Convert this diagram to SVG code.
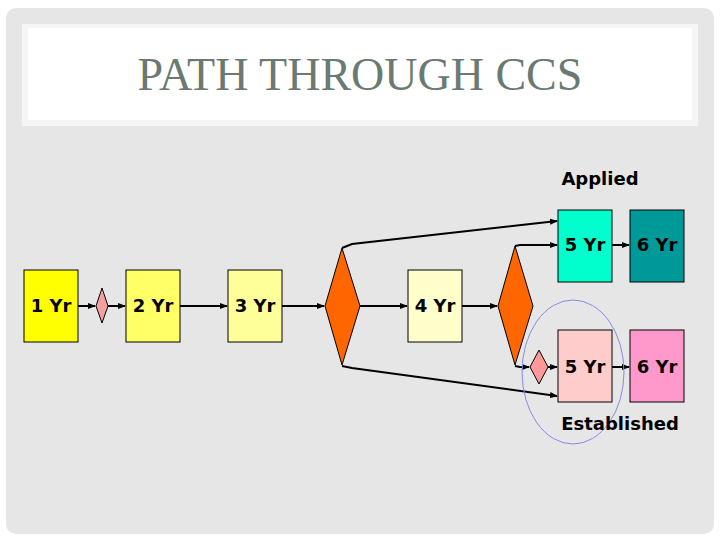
<svg xmlns="http://www.w3.org/2000/svg" width="720" height="540" viewBox="0 0 720 540">
<defs>
<marker id="a" markerWidth="8" markerHeight="8" refX="7" refY="4" orient="auto" markerUnits="userSpaceOnUse"><path d="M0,1 L8,4 L0,7 Z" fill="#000"/></marker>
<style>
.b{stroke:#000;stroke-width:1}
.t{font-family:"DejaVu Sans",sans-serif;font-size:18px;font-weight:bold;fill:#000}
.c{stroke:#000;stroke-width:2;fill:none;marker-end:url(#a)}
</style>
</defs>
<rect width="720" height="540" fill="#fff"/>
<rect x="6" y="8" width="708" height="526" rx="10" fill="#e6e6e6"/>
<rect x="22" y="24" width="676" height="102" fill="#f5f5f5"/>
<rect x="28" y="28" width="664" height="92" fill="#fff"/>
<text x="360" y="90" text-anchor="middle" font-family="Liberation Serif,serif" font-size="46" fill="#6a7a72">PATH THROUGH CCS</text>
<g id="connectors">
<line class="c" x1="78" y1="306" x2="95" y2="306"/>
<line class="c" x1="108" y1="306" x2="125" y2="306"/>
<line class="c" x1="180" y1="306" x2="227" y2="306"/>
<line class="c" x1="282" y1="306" x2="324" y2="306"/>
<line class="c" x1="360" y1="306" x2="407" y2="306"/>
<line class="c" x1="462" y1="306" x2="497" y2="306"/>
<polyline class="c" points="342,248 352,244 557,221"/>
<polyline class="c" points="342,366 352,368 557,396"/>
<polyline class="c" points="515,246 520,245 557,245"/>
<polyline class="c" points="515,366 520,367 529,367"/>
<line class="c" x1="548" y1="367" x2="557" y2="367"/>
<line class="c" x1="612" y1="245" x2="629" y2="245"/>
<line class="c" x1="612" y1="367" x2="629" y2="367"/>
</g>
<g id="n1"><rect class="b" x="24" y="270" width="54" height="72" fill="#ffff00"/><text class="t" x="51" y="312" text-anchor="middle">1 Yr</text></g>
<g id="d1"><polygon class="b" points="102,288 108,306 102,323 96,306" fill="#f4a0a0"/></g>
<g id="n2"><rect class="b" x="126" y="270" width="54" height="72" fill="#ffff66"/><text class="t" x="153" y="312" text-anchor="middle">2 Yr</text></g>
<g id="n3"><rect class="b" x="228" y="270" width="54" height="72" fill="#ffff99"/><text class="t" x="255" y="312" text-anchor="middle">3 Yr</text></g>
<g id="d2"><polygon class="b" points="342,248 360,306 342,365 325,306" fill="#ff6600"/></g>
<g id="n4"><rect class="b" x="408" y="270" width="54" height="72" fill="#ffffcc"/><text class="t" x="435" y="312" text-anchor="middle">4 Yr</text></g>
<g id="d3"><polygon class="b" points="515,246 533,306 515,365 498,306" fill="#ff6600"/></g>
<g id="d4"><polygon class="b" points="539,350 548,367 539,384 530,367" fill="#ff9999"/></g>
<g id="a5"><rect class="b" x="558" y="210" width="54" height="72" fill="#00ffcc"/><text class="t" x="585" y="251" text-anchor="middle">5 Yr</text></g>
<g id="a6"><rect class="b" x="630" y="210" width="54" height="72" fill="#009999"/><text class="t" x="657" y="251" text-anchor="middle">6 Yr</text></g>
<g id="e5"><rect class="b" x="558" y="330" width="54" height="72" fill="#ffcccc"/><text class="t" x="585" y="373" text-anchor="middle">5 Yr</text></g>
<g id="e6"><rect class="b" x="630" y="330" width="54" height="72" fill="#ff99cc"/><text class="t" x="657" y="373" text-anchor="middle">6 Yr</text></g>
<ellipse cx="573" cy="372" rx="51" ry="72" fill="none" stroke="#8888ee" stroke-width="1"/>
<text class="t" x="600" y="185" text-anchor="middle">Applied</text>
<text class="t" x="620" y="430" text-anchor="middle" font-size="19">Established</text>
</svg>
